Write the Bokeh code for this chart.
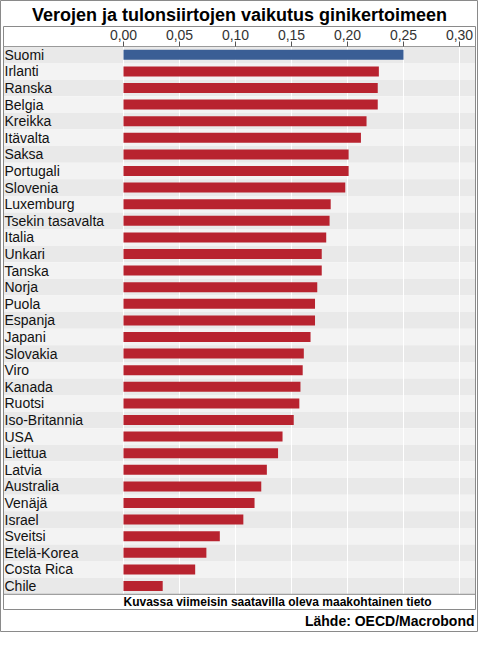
from bokeh.plotting import figure
from bokeh.models import Range1d, ColumnDataSource
from bokeh.core.properties import value
from bokeh.embed import file_html
from bokeh.resources import INLINE

countries = ["Suomi", "Irlanti", "Ranska", "Belgia", "Kreikka", "Itävalta", "Saksa",
             "Portugali", "Slovenia", "Luxemburg", "Tsekin tasavalta", "Italia", "Unkari",
             "Tanska", "Norja", "Puola", "Espanja", "Japani", "Slovakia", "Viro", "Kanada",
             "Ruotsi", "Iso-Britannia", "USA", "Liettua", "Latvia", "Australia", "Venäjä",
             "Israel", "Sveitsi", "Etelä-Korea", "Costa Rica", "Chile"]
values = [0.250, 0.228, 0.227, 0.227, 0.217, 0.212, 0.201, 0.201, 0.198, 0.185, 0.184,
          0.181, 0.177, 0.177, 0.173, 0.171, 0.171, 0.167, 0.161, 0.160, 0.158, 0.157,
          0.152, 0.142, 0.138, 0.128, 0.123, 0.117, 0.107, 0.086, 0.074, 0.064, 0.035]
tick_values = [0.0, 0.05, 0.10, 0.15, 0.20, 0.25, 0.30]
tick_labels = ["0,00", "0,05", "0,10", "0,15", "0,20", "0,25", "0,30"]
title_text = "Verojen ja tulonsiirtojen vaikutus ginikertoimeen"
note_text = "Kuvassa viimeisin saatavilla oleva maakohtainen tieto"
source_text = "Lähde: OECD/Macrobond"

W, H = 478, 632
ROW = 16.6          # px per country row
K = 1120            # px per unit on the value axis
X0 = 123            # px where value 0 sits
TOP = 46            # px where the first row starts
n = len(countries)

x_start = -X0 / K
x_end = (W - X0) / K
y_top = -0.5 - TOP / ROW
y_bottom = y_top + H / ROW


def px(p):
    return x_start + p / K


def py(p):
    return y_top + p / ROW


FONT = value("Liberation Sans")

p = figure(width=W, height=H, output_backend="svg", toolbar_location=None,
           x_range=Range1d(x_start, x_end), y_range=Range1d(y_bottom, y_top),
           x_axis_location=None, y_axis_location=None, min_border=0)
p.grid.visible = False
p.outline_line_color = "#8a8a8a"
p.background_fill_color = "white"
p.border_fill_color = "white"

idx = list(range(n))
stripe_colors = ["#e9e9e9" if i % 2 == 0 else "#f3f3f3" for i in idx]
bar_colors = ["#3a5e95" if c == "Suomi" else "#b8232f" for c in countries]
src = ColumnDataSource(dict(y=idx, name=countries, val=values,
                            stripe=stripe_colors, bar=bar_colors))

# row stripes
p.hbar(y="y", left=px(3), right=px(475), height=1, fill_color="stripe",
       line_color=None, source=src)

# vertical grid lines
p.segment(x0=tick_values, x1=tick_values, y0=[-0.5] * len(tick_values),
          y1=[n - 0.5] * len(tick_values), line_color="white", line_width=1)

# bars
p.hbar(y="y", left=0, right="val", height=0.6, fill_color="bar",
       line_color=None, source=src)

# country labels
p.text(x=px(4), y="y", text="name", text_font=FONT, text_font_size="14px",
       text_align="left", text_baseline="middle", text_color="#111111", source=src)

# inner box, axis line and bottom rule
p.quad(left=px(3), right=px(475), top=py(26), bottom=py(609),
       fill_color=None, line_color="#8a8a8a", line_width=1)
p.segment(x0=px(3), x1=px(475), y0=-0.5, y1=-0.5, line_color="#9a9a9a")
p.segment(x0=px(3), x1=px(475), y0=n - 0.5, y1=n - 0.5, line_color="#8a8a8a")

# tick marks and tick labels
p.segment(x0=tick_values, x1=tick_values, y0=[py(41)] * len(tick_values),
          y1=[-0.5] * len(tick_values), line_color="#555555")
p.text(x=tick_values, y=[py(34.5)] * len(tick_values), text=tick_labels,
       text_font=FONT, text_font_size="14px", text_align="center",
       text_baseline="middle", text_color="#333333")

# title, note and source
p.text(x=[px(W / 2)], y=[py(14)], text=[title_text], text_font=FONT,
       text_font_size="18px", text_font_style="bold", text_align="center",
       text_baseline="middle", text_color="black")
p.text(x=[0], y=[py(601.5)], text=[note_text], text_font=FONT,
       text_font_size="12px", text_font_style="bold", text_align="left",
       text_baseline="middle", text_color="black")
p.text(x=[px(474)], y=[py(620.5)], text=[source_text], text_font=FONT,
       text_font_size="14px", text_font_style="bold", text_align="right",
       text_baseline="middle", text_color="black")

open("out.html", "w").write(file_html(p, INLINE))
